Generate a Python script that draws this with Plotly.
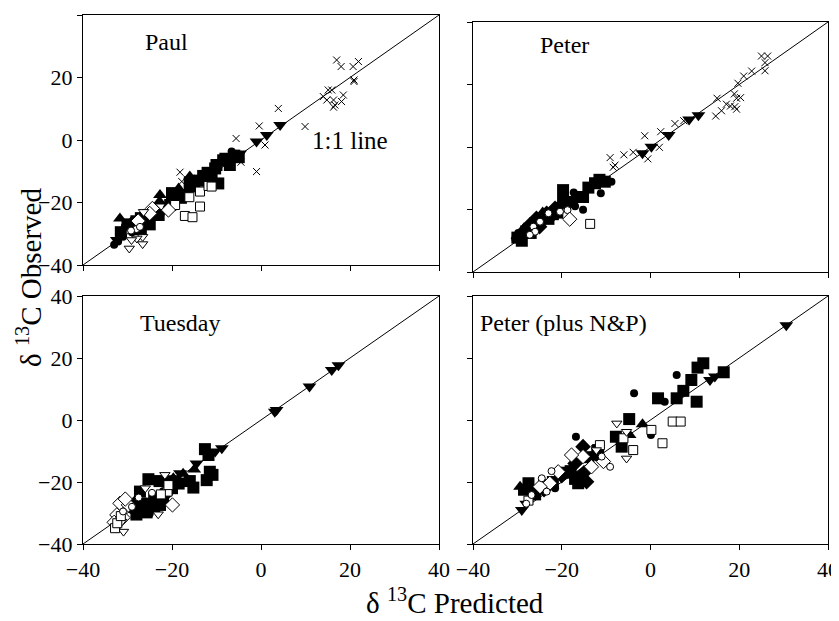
import plotly.graph_objects as go

# ---------------- data: (predicted, observed) per marker type ----------------
# Paul
PAUL_X = ([17.0, 18.0, 20.7, 21.9, 20.9, 20.9, 15.1, 15.9, 14.0, 14.8, 16.3, 16.6, 16.3, 18.5, 18.1, 3.9, -0.4, 0.9, -5.6, -4.5, -1.0, -18.2, -17.8, 9.9],
          [25.6, 23.5, 23.5, 25.1, 19.2, 18.7, 16.0, 16.0, 13.9, 12.8, 12.8, 11.2, 10.5, 14.4, 12.3, 10.1, 4.5, -1.6, 0.5, -7.1, -10.1, -10.3, -13.3, 4.3])
PAUL_FTD = ([4.3, 1.3, -1.0, -4.7, -32.4], [4.8, 1.6, -0.5, -4.3, -32.0])
PAUL_FC = ([-6.6, -24.9, -23.8, -28.7, -30.6, -31.3, -32.1, -21.2, -26.0, -33.0, -27.5, -19.5, -29.0, -31.0, -22.5],
           [-3.7, -25.6, -23.5, -25.6, -27.7, -30.4, -32.5, -21.9, -24.0, -33.5, -27.0, -20.5, -29.5, -31.0, -23.5])
PAUL_FS = ([-7.0, -10.3, -11.1, -9.6, -12.6, -16.0, -19.0, -17.1, -20.4, -8.5, -14.0, -30.0, -28.0, -27.0, -25.5, -31.5, -5.0, -12.0,
            -25.0, -23.0, -18.0, -15.0, -13.0, -10.0, -8.0, -6.0, -27.0, -20.0, -16.0],
           [-8.0, -9.1, -11.2, -13.9, -12.8, -14.9, -18.1, -17.6, -20.8, -6.5, -13.0, -27.0, -26.0, -28.5, -26.5, -29.5, -5.5, -10.5,
            -27.0, -24.0, -18.5, -14.0, -11.5, -8.0, -6.0, -5.0, -25.0, -17.0, -13.5])
PAUL_FTU = ([-16.0, -22.7, -31.7, -22.8, -18.5, -29.5], [-11.7, -17.6, -25.1, -19.7, -15.5, -27.0])
PAUL_FD = ([-29.0, -24.0, -26.5, -20.0, -15.0], [-27.5, -22.5, -24.5, -19.5, -13.5])
PAUL_OS = ([-13.7, -11.8, -11.1, -16.1, -19.3, -13.7, -17.1, -15.4], [-16.5, -14.7, -14.9, -18.3, -20.8, -21.3, -24.3, -24.7])
PAUL_OD = ([-24.4, -27.6, -20.8, -25.0], [-21.9, -25.9, -22.4, -23.5])
PAUL_OTD = ([-26.4, -26.6, -27.9, -29.6, -26.6, -29.1], [-23.0, -31.0, -31.5, -34.7, -33.3, -32.0])
PAUL_OC = ([-28.0, -29.2, -27.2], [-28.5, -29.0, -27.8])

# Peter
PETER_X = ([25.0, 26.4, 25.8, 25.8, 22.8, 21.0, 19.7, 15.0, 18.9, 19.4, 20.3, 19.0, 19.4, 17.1, 18.0, 16.0, 14.7, 7.5, 5.5, 2.3, -1.3, 2.0, -0.6, -3.9, -6.0, -9.1, -8.0, -8.4],
           [29.1, 29.1, 27.0, 24.4, 24.3, 22.7, 20.4, 15.6, 17.0, 15.6, 15.8, 12.9, 12.1, 13.7, 13.1, 11.6, 9.9, 8.4, 7.5, 4.9, 3.6, -0.1, -3.8, -1.7, -2.5, -3.4, -5.8, -6.5])
PETER_FTD = ([-1.8, 0.2, 4.1, 8.7, 10.8], [-2.0, 0.1, 3.8, 8.8, 10.2])
PETER_FS = ([-10.3, -12.5, -19.7, -15.2, -19.7, -17.8, -22.0, -25.0, -28.0, -30.0, -29.0, -27.0, -23.0, -21.0, -16.5, -14.0, -11.5],
            [-11.1, -11.6, -13.8, -16.0, -17.6, -17.6, -21.5, -24.0, -27.0, -29.0, -30.0, -27.5, -23.0, -21.0, -16.0, -13.0, -10.5])
PETER_FC = ([-8.8, -11.2, -15.2, -17.3, -22.3, -29.8, -30.5, -17.0, -26.0], [-11.1, -14.8, -20.1, -14.6, -22.6, -27.5, -29.3, -19.0, -25.5])
PETER_FD = ([-27.2, -25.7, -23.4, -28.7, -21.5, -19.0, -25.0], [-24.9, -22.8, -21.2, -27.1, -19.6, -18.0, -25.5])
PETER_FTU = ([-28.5, -30.0, -24.3, -20.5], [-26.0, -28.5, -21.0, -18.5])
PETER_OC = ([-26.4, -24.9, -23.0, -20.4, -18.7, -26.0, -27.2], [-25.5, -23.9, -21.2, -20.7, -20.2, -27.1, -28.1])
PETER_OD = ([-18.2], [-23.1])
PETER_OS = ([-13.6], [-24.6])

# Tuesday
TUE_FTD = ([17.4, 15.9, 10.9, 3.5, 3.1, -8.8, -10.3, -14.5, -18.2, -19.7], [17.7, 16.1, 10.8, 3.2, 2.7, -9.1, -10.2, -14.0, -17.2, -18.8])
TUE_FS = ([-12.6, -11.8, -11.5, -10.9, -12.2, -16.0, -15.2, -25.3, -22.8, -27.2, -22.7, -25.7, -27.0, -24.0, -20.0, -26.0, -24.0, -22.0, -18.5, -28.0],
          [-9.4, -11.3, -16.7, -17.7, -19.4, -19.7, -21.8, -19.1, -19.7, -23.1, -27.4, -29.8, -27.0, -25.0, -22.0, -27.0, -28.0, -25.0, -20.5, -30.5])
TUE_FTU = ([-17.5, -19.7, -21.0, -15.0], [-17.3, -18.8, -20.0, -16.0])
TUE_FC = ([-28.0, -26.5, -25.0, -24.0, -27.5, -22.0, -23.0, -29.0], [-29.5, -30.0, -30.2, -25.5, -27.5, -23.0, -25.5, -29.0])
TUE_FD = ([-26.0, -28.5, -24.5, -21.5], [-28.0, -27.0, -27.0, -24.0])
TUE_OD = ([-31.7, -29.8, -19.9, -32.4, -30.5, -33.0, -31.0], [-26.9, -27.4, -27.4, -30.6, -25.5, -33.0, -31.5])
TUE_OTD = ([-21.6, -23.1, -30.9, -32.4, -31.3, -26.0], [-17.7, -30.4, -36.0, -34.9, -32.8, -22.0])
TUE_OS = ([-32.8, -32.3, -21.0, -20.8, -22.5, -31.5], [-34.9, -33.3, -23.1, -21.0, -24.0, -31.0])
TUE_OC = ([-29.0, -31.0, -27.5, -24.5], [-28.0, -29.5, -25.0, -23.5])

# Peter (plus N&P)
NP_FTD = ([30.6, 13.4, 14.5, -29.0, -28.0], [30.6, 12.9, 14.0, -29.0, -27.0])
NP_FS = ([11.9, 10.6, 9.2, 7.4, 5.9, 10.4, 16.5, 1.7, -4.8, -7.8, -6.5, -11.8, -16.3, -27.5, -28.5, -15.5, -18.0,
          -26.0, -24.0, -22.0, -19.0, -17.0, -14.0, -12.0],
         [18.3, 16.9, 12.9, 9.4, 7.0, 5.9, 15.4, 7.0, 0.3, -5.4, -8.6, -9.7, -20.4, -20.4, -22.5, -18.5, -16.5,
          -24.0, -21.0, -20.0, -17.0, -19.0, -12.0, -10.0])
NP_FC = ([5.9, -3.7, 3.2, 6.2, 0.1, -16.8, -12.0, -21.5, -27.0], [14.5, 8.6, 5.9, -0.5, -4.8, -5.4, -12.0, -22.0, -22.0])
NP_FTU = ([-1.8, -4.7, -29.4, -13.5], [-1.4, -4.8, -21.5, -12.0])
NP_FD = ([-15.2, -14.4, -17.0, -20.0, -24.0, -26.5, -15.0], [-8.6, -19.9, -14.0, -18.0, -22.5, -23.5, -17.0])
NP_OS = ([5.0, 6.8, 0.2, 2.7, -3.9, -6.1, -11.4, -27.5], [-0.5, -0.5, -3.2, -7.5, -9.7, -5.9, -8.1, -26.0])
NP_OTD = ([-7.6, -5.4, -5.4, -12.2], [-1.1, -3.8, -12.4, -9.7])
NP_OD = ([-15.2, -17.8, -13.3, -10.6, -20.8, -22.7, -24.9], [-11.8, -11.3, -15.1, -13.4, -16.7, -20.4, -21.5])
NP_OC = ([-9.1, -11.0, -22.3, -24.5, -26.8, -23.4, -28.0], [-15.1, -11.8, -16.5, -18.8, -24.2, -23.1, -27.0])

PANEL_TITLES = ["Paul", "Peter", "Tuesday", "Peter (plus N&P)"]
TICKS = [-40, -20, 0, 20, 40]

PANELS = [
    [("fc", PAUL_FC), ("fs", PAUL_FS), ("ftu", PAUL_FTU), ("fd", PAUL_FD), ("ftd", PAUL_FTD),
     ("os", PAUL_OS), ("od", PAUL_OD), ("otd", PAUL_OTD), ("oc", PAUL_OC), ("x", PAUL_X)],
    [("fs", PETER_FS), ("fc", PETER_FC), ("fd", PETER_FD), ("ftu", PETER_FTU), ("ftd", PETER_FTD),
     ("oc", PETER_OC), ("od", PETER_OD), ("os", PETER_OS), ("x", PETER_X)],
    [("fs", TUE_FS), ("fc", TUE_FC), ("fd", TUE_FD), ("ftu", TUE_FTU), ("ftd", TUE_FTD),
     ("od", TUE_OD), ("otd", TUE_OTD), ("os", TUE_OS), ("oc", TUE_OC)],
    [("fs", NP_FS), ("fc", NP_FC), ("fd", NP_FD), ("ftu", NP_FTU), ("ftd", NP_FTD),
     ("os", NP_OS), ("otd", NP_OTD), ("od", NP_OD), ("oc", NP_OC)],
]

STYLES = {
    "fc": dict(symbol="circle", size=8, color="black", line=dict(width=0)),
    "fs": dict(symbol="square", size=12, color="black", line=dict(width=0)),
    "ftu": dict(symbol="triangle-up", size=12, color="black", line=dict(width=0)),
    "ftd": dict(symbol="triangle-down", size=12, color="black", line=dict(width=0)),
    "fd": dict(symbol="diamond", size=12, color="black", line=dict(width=0)),
    "oc": dict(symbol="circle", size=7, color="white", line=dict(width=1, color="black")),
    "os": dict(symbol="square", size=9, color="white", line=dict(width=1, color="black")),
    "od": dict(symbol="diamond", size=11, color="white", line=dict(width=1, color="black")),
    "otd": dict(symbol="triangle-down", size=9, color="white", line=dict(width=1, color="black")),
    "x": dict(symbol="x-thin-open", size=7, color="black", line=dict(width=1, color="black")),
}

# page body has an 8px margin, so the figure is drawn 8px in from the window corner
OFF = 8
W, H = 839 - OFF, 621 - OFF


def px(v):
    return (v - OFF) / W


def py(v):
    return 1 - (v - OFF) / H


XD_L = [px(83), px(439)]
XD_R = [px(473), px(828)]
DOMAINS = [
    (XD_L, [py(265), py(15)]),
    (XD_R, [py(272), py(22)]),
    (XD_L, [py(544), py(296)]),
    (XD_R, [py(544), py(296)]),
]

FONT = "Liberation Serif"
fig = go.Figure()
layout = dict(width=W, height=H, margin=dict(l=0, r=0, t=0, b=0, pad=0), autosize=False,
              paper_bgcolor="white", plot_bgcolor="white", showlegend=False,
              font=dict(family=FONT, size=22, color="black"))
annotations = []

for i, series in enumerate(PANELS):
    n = i + 1
    xa = "x" if n == 1 else f"x{n}"
    ya = "y" if n == 1 else f"y{n}"
    # 1:1 line
    fig.add_trace(go.Scatter(x=[TICKS[0], TICKS[-1]], y=[TICKS[0], TICKS[-1]], mode="lines",
                             line=dict(color="black", width=1), xaxis=xa, yaxis=ya, hoverinfo="skip"))
    for key, (pred, obs) in series:
        fig.add_trace(go.Scatter(x=pred, y=obs, mode="markers", marker=STYLES[key],
                                 xaxis=xa, yaxis=ya))
    xd, yd = DOMAINS[i]
    common = dict(range=[-40, 40], tickvals=TICKS, showgrid=False, zeroline=False,
                  showline=True, mirror=True, linecolor="black", linewidth=1.3,
                  ticks="outside", ticklen=5, tickwidth=1, tickcolor="black",
                  automargin=False,
                  tickfont=dict(family=FONT, size=22, color="black"))
    layout["xaxis" if n == 1 else f"xaxis{n}"] = dict(common, domain=xd, anchor=ya,
                                                      showticklabels=(n >= 3))
    layout["yaxis" if n == 1 else f"yaxis{n}"] = dict(common, domain=yd, anchor=xa,
                                                      showticklabels=(n % 2 == 1))
    tx = [-26.5, -25.4, -27.6, -38.9][i]
    ty = [31.4, 32.6, 31.3, 31.3][i]
    annotations.append(dict(x=tx, y=ty, xref=xa, yref=ya, text=PANEL_TITLES[i], showarrow=False,
                            xanchor="left", yanchor="middle", font=dict(family=FONT, size=24)))

annotations.append(dict(x=11.0, y=0.0, xref="x", yref="y", text="1:1 line", showarrow=False,
                        xanchor="left", yanchor="middle", font=dict(family=FONT, size=25)))
annotations.append(dict(x=px(455), y=py(601), xref="paper", yref="paper",
                        text="δ <sup>13</sup>C Predicted", showarrow=False,
                        xanchor="center", yanchor="middle", font=dict(family=FONT, size=29)))
annotations.append(dict(x=px(29), y=py(278), xref="paper", yref="paper",
                        text="δ <sup>13</sup>C Observed", showarrow=False, textangle=-90,
                        xanchor="center", yanchor="middle", font=dict(family=FONT, size=29)))
layout["annotations"] = annotations
fig.update_layout(**layout)
fig.write_html("out.html")
